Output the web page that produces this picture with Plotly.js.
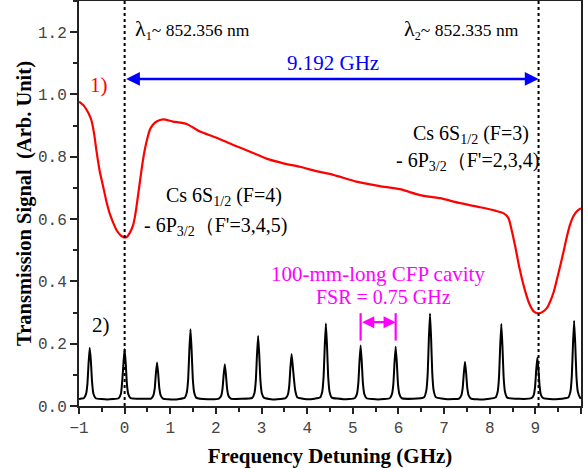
<!DOCTYPE html>
<html>
<head>
<meta charset="utf-8">
<script src="https://cdn.plot.ly/plotly-3.0.1.min.js"></script>
<style>html,body{margin:0;padding:0;background:#fff;}#chart{width:588px;height:468px;}</style>
</head>
<body>
<div id="chart"></div>
<script>
// Curve 1): Cs transmission signal (red)
const absX = [-1.00, -0.90, -0.80, -0.73, -0.67, -0.62, -0.55, -0.47, -0.40, -0.33, -0.25, -0.18, -0.10, -0.05, 0.00,
  0.05, 0.11, 0.18, 0.22, 0.26, 0.33, 0.39, 0.44, 0.50, 0.55, 0.62, 0.70, 0.84, 1.06, 1.36, 1.65, 2.00, 2.38, 2.75, 3.11,
  3.48, 3.84, 4.20, 4.57, 5.08, 5.59, 6.03, 6.47, 6.91, 7.35, 7.79, 8.12, 8.30, 8.41, 8.48, 8.56, 8.66, 8.77,
  8.88, 8.97, 9.07, 9.16, 9.25, 9.32, 9.40, 9.47, 9.54, 9.62, 9.69, 9.76, 9.83, 9.91, 10.00];
const absY = [0.977, 0.965, 0.942, 0.918, 0.875, 0.822, 0.757, 0.704, 0.657, 0.619, 0.588, 0.565, 0.550, 0.544, 0.541,
  0.543, 0.555, 0.578, 0.603, 0.640, 0.715, 0.778, 0.822, 0.860, 0.886, 0.903, 0.913, 0.920, 0.913, 0.905, 0.881, 0.862, 0.838, 0.816, 0.794,
  0.779, 0.768, 0.754, 0.742, 0.720, 0.706, 0.696, 0.677, 0.667, 0.651, 0.638, 0.627, 0.619, 0.603, 0.565, 0.511, 0.437, 0.372,
  0.324, 0.303, 0.297, 0.302, 0.314, 0.334, 0.365, 0.405, 0.447, 0.497, 0.543, 0.582, 0.608, 0.625, 0.635];

// Curve 2): CFP cavity transmission peaks (black)
const cavX = [
  -1.00, -0.95,
  -0.895, -0.845, -0.815, -0.79, -0.765, -0.74, -0.715, -0.685, -0.635, -0.38,
  -0.13, -0.08, -0.05, -0.025, 0.00, 0.025, 0.05, 0.08, 0.13, 0.355,
  0.58, 0.63, 0.66, 0.685, 0.71, 0.735, 0.76, 0.79, 0.84, 1.08,
  1.313, 1.363, 1.393, 1.418, 1.443, 1.468, 1.493, 1.523, 1.573, 1.82,
  2.065, 2.115, 2.145, 2.17, 2.195, 2.22, 2.245, 2.275, 2.325, 2.56,
  2.795, 2.845, 2.875, 2.90, 2.925, 2.95, 2.975, 3.005, 3.055, 3.29,
  3.528, 3.578, 3.608, 3.633, 3.658, 3.683, 3.708, 3.738, 3.788, 4.03,
  4.28, 4.33, 4.36, 4.385, 4.41, 4.435, 4.46, 4.49, 4.54, 4.79,
  5.041, 5.091, 5.121, 5.146, 5.171, 5.196, 5.221, 5.251, 5.301, 5.555,
  5.809, 5.859, 5.889, 5.914, 5.939, 5.964, 5.989, 6.019, 6.069, 6.315,
  6.561, 6.611, 6.641, 6.666, 6.691, 6.716, 6.741, 6.771, 6.821, 7.075,
  7.328, 7.378, 7.408, 7.433, 7.458, 7.483, 7.508, 7.538, 7.588, 7.855,
  8.124, 8.174, 8.204, 8.229, 8.254, 8.279, 8.304, 8.334, 8.384, 8.65,
  8.914, 8.964, 8.994, 9.019, 9.044, 9.069, 9.094, 9.124, 9.174, 9.45,
  9.719, 9.769, 9.799, 9.824, 9.849, 9.874, 9.899, 9.929, 9.979, 10.00];
const cavY = [
  0.022, 0.024,
  0.025, 0.039, 0.072, 0.138, 0.187, 0.145, 0.080, 0.040, 0.025, 0.021,
  0.025, 0.040, 0.085, 0.140, 0.183, 0.135, 0.070, 0.038, 0.025, 0.023,
  0.024, 0.034, 0.057, 0.105, 0.140, 0.105, 0.057, 0.034, 0.024, 0.021,
  0.026, 0.044, 0.089, 0.179, 0.246, 0.179, 0.089, 0.044, 0.026, 0.022,
  0.024, 0.033, 0.056, 0.100, 0.134, 0.100, 0.056, 0.033, 0.024, 0.023,
  0.026, 0.042, 0.083, 0.164, 0.225, 0.164, 0.083, 0.042, 0.026, 0.021,
  0.025, 0.037, 0.066, 0.124, 0.167, 0.130, 0.090, 0.050, 0.027, 0.022,
  0.027, 0.046, 0.095, 0.192, 0.265, 0.192, 0.095, 0.046, 0.027, 0.022,
  0.025, 0.039, 0.074, 0.142, 0.194, 0.142, 0.074, 0.039, 0.025, 0.021,
  0.025, 0.039, 0.072, 0.140, 0.190, 0.140, 0.072, 0.039, 0.025, 0.023,
  0.028, 0.050, 0.105, 0.215, 0.297, 0.215, 0.105, 0.050, 0.028, 0.022,
  0.024, 0.034, 0.058, 0.106, 0.142, 0.106, 0.058, 0.034, 0.024, 0.021,
  0.027, 0.046, 0.094, 0.191, 0.263, 0.191, 0.094, 0.046, 0.027, 0.023,
  0.025, 0.035, 0.062, 0.116, 0.156, 0.116, 0.062, 0.035, 0.025, 0.022,
  0.027, 0.047, 0.098, 0.198, 0.274, 0.198, 0.098, 0.047, 0.027, 0.024];

// Reference lines / markers
const lambdaLines = [0, 9.07];
const fsrPeaks = [5.171, 5.939];
const yTickVals = [0.0, 0.2, 0.4, 0.6, 0.8, 1.0, 1.2];
const xTickVals = [-1, 0, 1, 2, 3, 4, 5, 6, 7, 8, 9, 10];

const serif = 'Liberation Serif, Times New Roman, serif';
const tickFont = {family: 'Liberation Mono, DejaVu Sans Mono, monospace', size: 16, color: '#444'};

const traces = [
  {x: absX, y: absY, type: 'scatter', mode: 'lines', line: {color: '#ff0000', width: 2.2, shape: 'spline', smoothing: 0.6}, hoverinfo: 'skip'},
  {x: cavX, y: cavY, type: 'scatter', mode: 'lines', line: {color: '#000000', width: 2, shape: 'spline', smoothing: 0.4}, hoverinfo: 'skip'}
];

const shapes = [];
lambdaLines.forEach(v => shapes.push({type: 'line', xref: 'x', yref: 'y', x0: v, x1: v, y0: 0, y1: 1.3,
  line: {color: '#000', width: 2, dash: 'dot'}}));
fsrPeaks.forEach(v => shapes.push({type: 'line', xref: 'x', yref: 'y', x0: v, x1: v, y0: 0.21, y1: 0.298,
  line: {color: '#ff00ff', width: 2.2}}));

const annotations = [
  {x: lambdaLines[1], y: 1.05, ax: lambdaLines[0], ay: 1.05, xref: 'x', yref: 'y', axref: 'x', ayref: 'y',
   text: '', showarrow: true, arrowside: 'end+start', arrowhead: 2, arrowsize: 1.1, arrowwidth: 2.5, arrowcolor: '#0000ff', standoff: 0, startstandoff: 0},
  {x: fsrPeaks[1], y: 0.269, ax: fsrPeaks[0], ay: 0.269, xref: 'x', yref: 'y', axref: 'x', ayref: 'y',
   text: '', showarrow: true, arrowside: 'end+start', arrowhead: 2, arrowsize: 1.1, arrowwidth: 2.2, arrowcolor: '#ff00ff', standoff: 0, startstandoff: 0},
  {x: 4.57, y: 1.10, text: '9.192 GHz', showarrow: false, font: {family: serif, size: 21, color: '#0000ff'}},
  {x: 0.178, y: 1.207, xanchor: 'left', text: '<span style="font-size:22px">λ</span><sub>1</sub>~ 852.356 nm', showarrow: false, font: {family: serif, size: 17.5, color: '#000'}},
  {x: 6.07, y: 1.207, xanchor: 'left', text: '<span style="font-size:22px">λ</span><sub>2</sub>~ 852.335 nm', showarrow: false, font: {family: serif, size: 17.5, color: '#000'}},
  {x: -0.566, y: 1.029, text: '1)', showarrow: false, font: {family: serif, size: 21, color: '#ff0000'}},
  {x: -0.524, y: 0.26, text: '2)', showarrow: false, font: {family: serif, size: 21, color: '#000'}},
  {x: 2.169, y: 0.672, text: 'Cs 6S<sub>1/2</sub> (F=4)', showarrow: false, font: {family: serif, size: 20, color: '#000'}},
  {x: 2.0, y: 0.576, text: '- 6P<sub>3/2</sub>（F\'=3,4,5)', showarrow: false, font: {family: serif, size: 20, color: '#000'}},
  {x: 7.60, y: 0.871, text: 'Cs 6S<sub>1/2</sub> (F=3)', showarrow: false, font: {family: serif, size: 20, color: '#000'}},
  {x: 7.51, y: 0.785, text: '- 6P<sub>3/2</sub>（F\'=2,3,4)', showarrow: false, font: {family: serif, size: 20, color: '#000'}},
  {x: 5.557, y: 0.425, text: '100-mm-long CFP cavity', showarrow: false, font: {family: serif, size: 21, color: '#ff00ff'}},
  {x: 5.68, y: 0.35, text: 'FSR = 0.75 GHz', showarrow: false, font: {family: serif, size: 20, color: '#ff00ff'}}
];

const layout = {
  width: 588, height: 468,
  margin: {l: 79, r: 7, t: 1, b: 62},
  paper_bgcolor: '#fff', plot_bgcolor: '#fff',
  showlegend: false, hovermode: false,
  xaxis: {
    range: [-1, 10], tickvals: xTickVals, ticks: 'outside', ticklen: 6, tickwidth: 1.5, tickcolor: '#222',
    minor: {dtick: 0.5, ticks: 'outside', ticklen: 4, tickwidth: 1.5, tickcolor: '#222'},
    showline: true, linecolor: '#222', linewidth: 2, mirror: true, showgrid: false, zeroline: false,
    tickfont: tickFont,
    title: {text: 'Frequency Detuning (GHz)', font: {family: serif, size: 21, color: '#000', weight: 'bold'}, standoff: 27}
  },
  yaxis: {
    range: [0, 1.3], tickvals: yTickVals, tickformat: '.1f', ticks: 'outside', ticklen: 7, tickwidth: 1.5, tickcolor: '#222',
    minor: {dtick: 0.1, ticks: 'outside', ticklen: 4, tickwidth: 1.5, tickcolor: '#222'},
    showline: true, linecolor: '#222', linewidth: 2, mirror: true, showgrid: false, zeroline: false,
    tickfont: tickFont,
    title: {text: 'Transmission Signal  (Arb. Unit)', font: {family: serif, size: 20.5, color: '#000', weight: 'bold'}, standoff: 1}
  },
  shapes: shapes,
  annotations: annotations
};

Plotly.newPlot('chart', traces, layout, {displayModeBar: false});
</script>
</body>
</html>
